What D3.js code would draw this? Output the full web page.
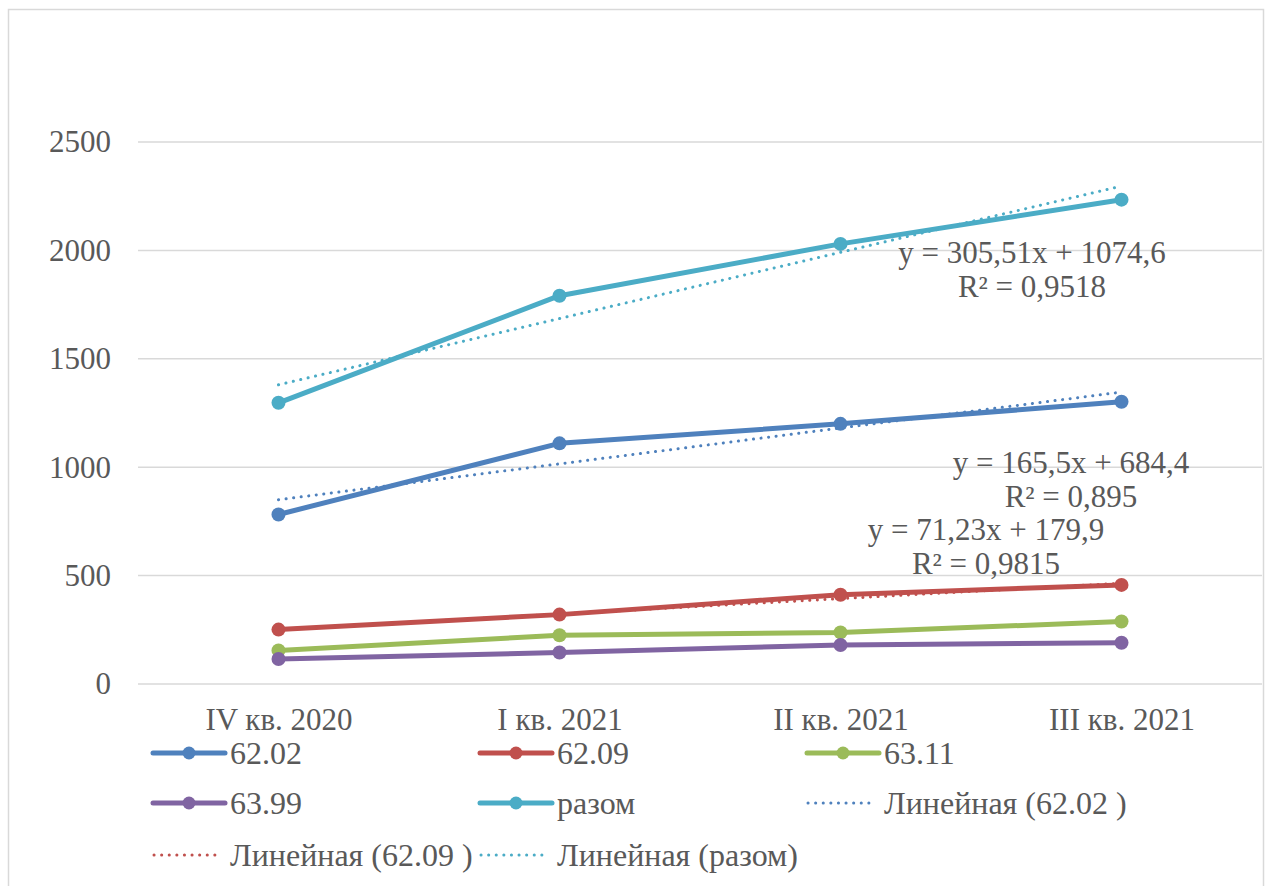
<!DOCTYPE html>
<html>
<head>
<meta charset="utf-8">
<script src="https://cdn.jsdelivr.net/npm/d3@7"></script>
<style>
  html, body { margin: 0; padding: 0; background: #fff; }
  svg { display: block; font-family: "Liberation Serif", "Times New Roman", serif; }
</style>
</head>
<body>
<div id="chart"></div>
<script>
/*    Data    */
const categories = ["IV кв. 2020", "I кв. 2021", "II кв. 2021", "III кв. 2021"];
const yTicks = [0, 500, 1000, 1500, 2000, 2500];

const seriesNames = ["62.02", "62.09", "63.11", "63.99", "разом"];
const v6202 = [782, 1110, 1200, 1302];
const v6209 = [251, 320, 412, 457];
const v6311 = [155, 225, 238, 288];
const v6399 = [115, 145, 180, 190];
const vRazom = [1297, 1791, 2030, 2234];
const seriesValues = [v6202, v6209, v6311, v6399, vRazom];
const seriesColors = ["#4f81bd", "#c0504d", "#9bbb59", "#8064a2", "#4bacc6"];

// linear trendlines as shown in the chart (y = a*x + b, x = 1..4)
const trendSeries = ["62.02", "62.09", "разом"];
const trendSlope = [165.5, 71.23, 305.51];
const trendIntercept = [684.4, 179.9, 1074.6];
const trendR2 = ["0,895", "0,9815", "0,9518"];
const trendEqText = ["y = 165,5x + 684,4", "y = 71,23x + 179,9", "y = 305,51x + 1074,6"];

const legendLabels = ["62.02", "62.09", "63.11", "63.99", "разом",
  "Линейная (62.02 )", "Линейная (62.09 )", "Линейная (разом)"];

/*    Layout    */
const width = 1268, height = 886;
const plot = {left: 138, right: 1262, top: 142, bottom: 684};
const textColor = "#595959";
const gridColor = "#d9d9d9";

const svg = d3.select("#chart").append("svg")
  .attr("width", width).attr("height", height)
  .attr("viewBox", `0 0 ${width} ${height}`);

// outer chart border
svg.append("rect")
  .attr("x", 8.5).attr("y", 9.5)
  .attr("width", 1255).attr("height", 900)
  .attr("fill", "#fff")
  .attr("stroke", gridColor).attr("stroke-width", 1.5);

const xScale = d3.scalePoint()
  .domain(categories)
  .range([plot.left, plot.right])
  .padding(0.5);

const yScale = d3.scaleLinear()
  .domain([0, 2500])
  .range([plot.bottom, plot.top]);

// gridlines
svg.append("g")
  .selectAll("line")
  .data(yTicks)
  .join("line")
    .attr("x1", plot.left).attr("x2", plot.right)
    .attr("y1", d => yScale(d)).attr("y2", d => yScale(d))
    .attr("stroke", gridColor).attr("stroke-width", 1.5);

// y axis labels
const yAxis = d3.axisLeft(yScale).tickValues(yTicks).tickFormat(d3.format("d"))
  .tickSize(0).tickPadding(27);
svg.append("g")
  .attr("transform", `translate(${plot.left}, 0)`)
  .call(yAxis)
  .call(g => g.select(".domain").remove())
  .call(g => g.selectAll("text")
    .attr("font-family", "Liberation Serif").attr("font-size", 31)
    .attr("fill", textColor));

// x axis labels
const xAxis = d3.axisBottom(xScale).tickSize(0).tickPadding(24);
svg.append("g")
  .attr("transform", `translate(0, ${plot.bottom})`)
  .call(xAxis)
  .call(g => g.select(".domain").remove())
  .call(g => g.selectAll("text")
    .attr("font-family", "Liberation Serif").attr("font-size", 31)
    .attr("fill", textColor));

// series lines
const line = d3.line()
  .x((d, i) => xScale(categories[i]))
  .y(d => yScale(d));

const seriesG = svg.append("g")
  .selectAll("g")
  .data(seriesValues)
  .join("g");

seriesG.append("path")
  .attr("d", d => line(d))
  .attr("fill", "none")
  .attr("stroke", (d, i) => seriesColors[i])
  .attr("stroke-width", 5)
  .attr("stroke-linejoin", "round");

seriesG.selectAll("circle")
  .data((d, i) => d.map(v => ({v, c: seriesColors[i]})))
  .join("circle")
    .attr("cx", (d, i) => xScale(categories[i]))
    .attr("cy", d => yScale(d.v))
    .attr("r", 7)
    .attr("fill", d => d.c);

// trendlines (dotted)
const trendColor = name => seriesColors[seriesNames.indexOf(name)];
svg.append("g")
  .selectAll("path")
  .data(trendSeries)
  .join("path")
    .attr("d", (name, k) => line(categories.map((c, i) => trendSlope[k] * (i + 1) + trendIntercept[k])))
    .attr("fill", "none")
    .attr("stroke", name => trendColor(name))
    .attr("stroke-width", 3)
    .attr("stroke-linecap", "round")
    .attr("stroke-dasharray", "0.1 7.5");

// trend labels (centre x, baseline y of the equation line)
const trendLabelPos = [[1071, 473], [986, 540], [1032, 263]];
const trendLabels = svg.append("g")
  .attr("font-family", "Liberation Serif").attr("font-size", 31)
  .attr("fill", textColor).attr("text-anchor", "middle");
trendSeries.forEach((name, k) => {
  const [x, y] = trendLabelPos[k];
  trendLabels.append("text").attr("x", x).attr("y", y).text(trendEqText[k]);
  trendLabels.append("text").attr("x", x).attr("y", y + 34).text("R² = " + trendR2[k]);
});

// legend
const legendCols = [153, 480, 807];
const legendSymW = 72;
const legendRows = [753, 803, 855];
const legendG = svg.append("g");
legendLabels.forEach((label, i) => {
  const x0 = legendCols[i % 3];
  const cy = legendRows[Math.floor(i / 3)];
  const isTrend = i >= 5;
  const color = isTrend ? trendColor(trendSeries[i - 5]) : seriesColors[i];
  const item = legendG.append("g");
  if (isTrend) {
    item.append("line")
      .attr("x1", x0 + 1).attr("x2", x0 + legendSymW - 4)
      .attr("y1", cy).attr("y2", cy)
      .attr("stroke", color).attr("stroke-width", 3)
      .attr("stroke-linecap", "round").attr("stroke-dasharray", "0.1 7.5");
  } else {
    item.append("line")
      .attr("x1", x0).attr("x2", x0 + legendSymW)
      .attr("y1", cy).attr("y2", cy)
      .attr("stroke", color).attr("stroke-width", 5)
      .attr("stroke-linecap", "round");
    item.append("circle")
      .attr("cx", x0 + legendSymW / 2).attr("cy", cy).attr("r", 6.5)
      .attr("fill", color);
  }
  item.append("text")
    .attr("x", x0 + legendSymW + 5).attr("y", cy + 11)
    .attr("font-family", "Liberation Serif").attr("font-size", 32)
    .attr("fill", textColor)
    .text(label);
});
</script>
</body>
</html>
